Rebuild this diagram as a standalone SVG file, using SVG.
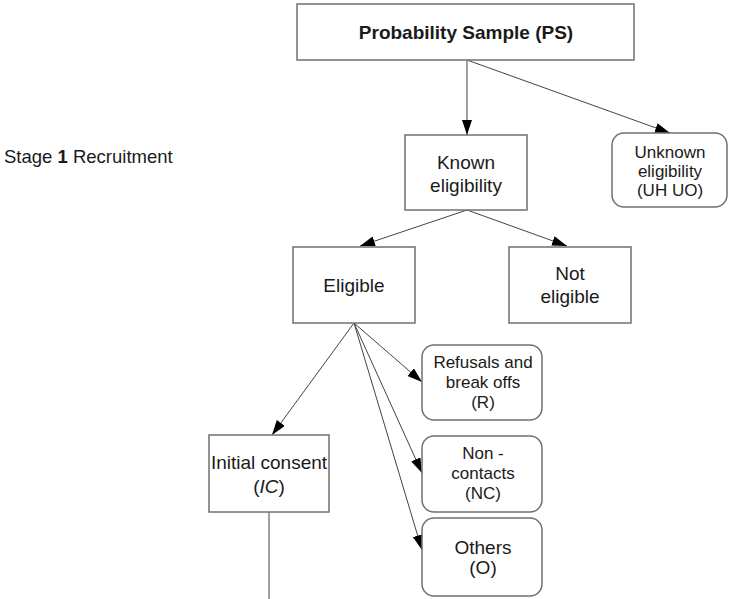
<svg xmlns="http://www.w3.org/2000/svg" width="731" height="599" viewBox="0 0 731 599">
<style>
.box{fill:#fff;stroke:#707070;stroke-width:1.5}
.t{font-family:"Liberation Sans",Arial,sans-serif;font-size:19px;fill:#1a1a1a;text-anchor:middle}
.s{font-size:17px}
.c{stroke:#444;stroke-width:1;fill:none}
</style>
<defs>
<marker id="ah" viewBox="0 0 15 10" refX="15" refY="5" markerWidth="15" markerHeight="10" markerUnits="userSpaceOnUse" orient="auto">
<path d="M0,0 L15,5 L0,10 Z" fill="#000"/>
</marker>
</defs>
<rect width="731" height="599" fill="#fff"/>
<text x="4" y="163" font-family="Liberation Sans,Arial,sans-serif" font-size="18.5" fill="#1a1a1a">Stage <tspan font-weight="bold">1</tspan> Recruitment</text>
<g id="connectors">
<line class="c" x1="467" y1="60" x2="467" y2="135" marker-end="url(#ah)"/>
<line class="c" x1="467" y1="60" x2="670" y2="133" marker-end="url(#ah)"/>
<line class="c" x1="467" y1="210" x2="360" y2="246" marker-end="url(#ah)"/>
<line class="c" x1="467" y1="210" x2="567" y2="246" marker-end="url(#ah)"/>
<line class="c" x1="354" y1="323" x2="272" y2="435" marker-end="url(#ah)"/>
<line class="c" x1="354" y1="323" x2="422" y2="382" marker-end="url(#ah)"/>
<line class="c" x1="354" y1="323" x2="422" y2="473" marker-end="url(#ah)"/>
<line class="c" x1="354" y1="323" x2="422" y2="550" marker-end="url(#ah)"/>
<line class="c" x1="269" y1="512" x2="269" y2="599"/>
</g>
<g id="ps">
<rect class="box" x="297" y="4" width="337" height="56"/>
<text class="t" x="466" y="39" font-weight="bold" font-size="20">Probability Sample (PS)</text>
</g>
<g id="known">
<rect class="box" x="405" y="135" width="122" height="75"/>
<text class="t" x="466" y="169">Known</text>
<text class="t" x="466" y="192">eligibility</text>
</g>
<g id="unknown">
<rect class="box" x="612" y="133" width="115" height="74" rx="12"/>
<text class="t s" x="670" y="158">Unknown</text>
<text class="t s" x="670" y="177">eligibility</text>
<text class="t s" x="670" y="196">(UH UO)</text>
</g>
<g id="eligible">
<rect class="box" x="293" y="247" width="122" height="76"/>
<text class="t" x="354" y="292">Eligible</text>
</g>
<g id="noteligible">
<rect class="box" x="509" y="247" width="122" height="76"/>
<text class="t" x="570" y="280">Not</text>
<text class="t" x="570" y="303">eligible</text>
</g>
<g id="refusals">
<rect class="box" x="422" y="345" width="120" height="75" rx="12"/>
<text class="t s" x="483" y="368">Refusals and</text>
<text class="t s" x="483" y="388">break offs</text>
<text class="t s" x="483" y="408">(R)</text>
</g>
<g id="noncontacts">
<rect class="box" x="422" y="436" width="120" height="76" rx="12"/>
<text class="t s" x="483" y="459">Non -</text>
<text class="t s" x="483" y="479">contacts</text>
<text class="t s" x="483" y="499">(NC)</text>
</g>
<g id="others">
<rect class="box" x="422" y="518" width="120" height="78" rx="12"/>
<text class="t" x="483" y="554">Others</text>
<text class="t" x="483" y="574">(O)</text>
</g>
<g id="initial">
<rect class="box" x="209" y="435" width="120" height="77"/>
<text class="t" x="269" y="469">Initial consent</text>
<text class="t" x="269" y="493">(<tspan font-style="italic">IC</tspan>)</text>
</g>
</svg>
